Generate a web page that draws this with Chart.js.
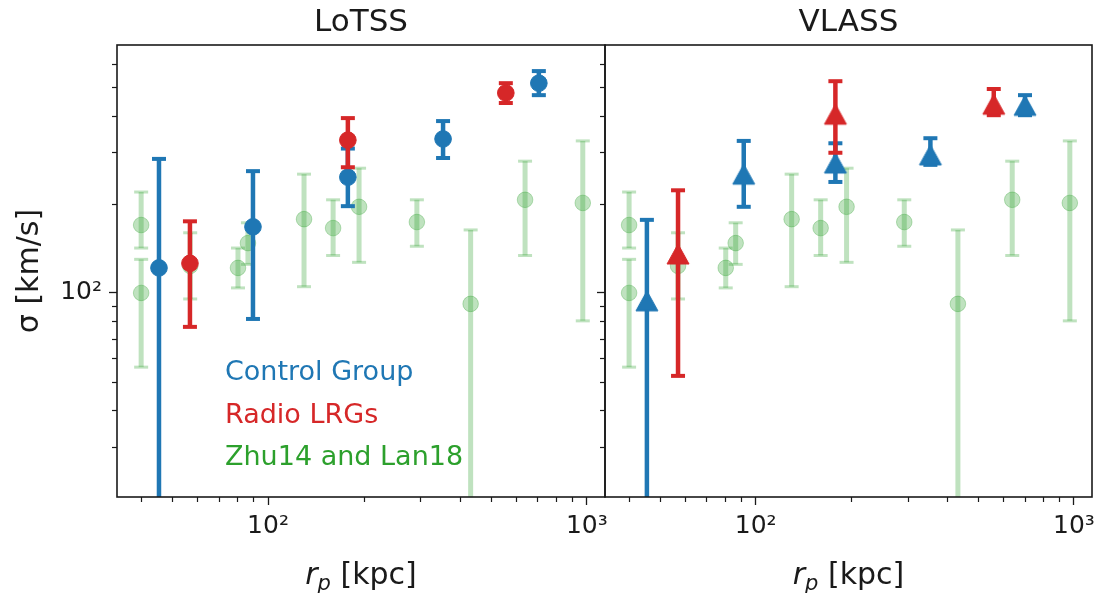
<!DOCTYPE html>
<html>
<head>
<meta charset="utf-8">
<script src="https://cdn.jsdelivr.net/npm/chart.js@4.4.1/dist/chart.umd.min.js"></script>
<style>
  html, body { margin: 0; padding: 0; background: #fff; overflow: hidden; }
  #wrap { position: relative; width: 1102px; height: 593px; overflow: hidden; background: #fff; }
  #cA { position: absolute; left: 0; top: 0; }
  #cB { position: absolute; left: 580px; top: 0; }
</style>
</head>
<body>
<div id="wrap">
  <canvas id="cA" width="620" height="593" style="width:620px;height:593px"></canvas>
  <canvas id="cB" width="560" height="593" style="width:560px;height:593px"></canvas>
</div>
<script>
// ---------------- DATA ----------------
const panelTitles = ['LoTSS', 'VLASS'];
const legendLabels = ['Control Group', 'Radio LRGs', 'Zhu14 and Lan18'];
const yTitle = 'σ [km/s]';
const xTitleMain = 'r', xTitleSub = 'p', xTitleUnit = ' [kpc]';

const xTickValues = [100, 1000];
const xTickLabels = ['10²', '10³'];
const yTickValues = [100];
const yTickLabels = ['10²'];
const xMinorTicks = [40, 50, 60, 70, 80, 90, 200, 300, 400, 500, 600, 700, 800, 900];
const yMinorTicks = [30, 40, 50, 60, 70, 80, 90, 200, 300, 400, 500, 600];

// Zhu14 and Lan18 (same in both panels)
const litR     = [40, 40, 57, 80.5, 86.5, 129.7, 160, 193, 293, 432, 640, 971];
const litSigma = [170, 100, 123.5, 121.6, 147.6, 178, 166, 196, 174, 91.8, 207, 202];
const litLo    = [142, 56, 95.4, 104, 125, 105, 134, 127, 144, 10, 134, 80.4];
const litHi    = [220, 130, 160, 142, 173, 253, 207, 265, 207, 163.6, 280, 328];

// LoTSS
const lotssCtrlR     = [45.5, 89.7, 178, 354, 707];
const lotssCtrlSigma = [121.6, 167.6, 247, 333, 515];
const lotssCtrlLo    = [5, 81.6, 197, 287, 469];
const lotssCtrlHi    = [285, 259, 309, 383, 566];

const lotssRadioR     = [56.9, 178, 557];
const lotssRadioSigma = [126, 330, 477];
const lotssRadioLo    = [76.7, 267, 441];
const lotssRadioHi    = [175, 392, 515];

// VLASS
const vlassCtrlR     = [45.5, 91.7, 178, 354, 702];
const vlassCtrlSigma = [94, 253, 276, 294, 433];
const vlassCtrlLo    = [5, 196, 238, 272, 401];
const vlassCtrlHi    = [177, 328, 322, 335, 469];

const vlassRadioR     = [57, 178, 560];
const vlassRadioSigma = [135.6, 404, 437];
const vlassRadioLo    = [52.3, 299, 401];
const vlassRadioHi    = [223, 523, 492];

// ---------------- STYLE ----------------
const FONT = "'DejaVu Sans', 'Liberation Sans', sans-serif";
const INK = '#1a1a1a';
const BLUE = '#1f77b4', RED = '#d62728', GREEN = '#2ca02c';
const GREEN_A = 'rgba(44,160,44,0.3)';

function pts(xs, ys, lo, hi) {
  return xs.map((x, i) => ({ x: x, y: ys[i], lo: lo[i], hi: hi[i] }));
}

function triangleImage(color) {
  const c = document.createElement('canvas');
  c.width = 26; c.height = 24;
  const g = c.getContext('2d');
  g.fillStyle = color;
  g.strokeStyle = color;
  g.lineWidth = 1;
  g.lineJoin = 'miter';
  g.beginPath();
  g.moveTo(13, 2);
  g.lineTo(2, 22);
  g.lineTo(24, 22);
  g.closePath();
  g.fill();
  g.stroke();
  return c;
}

function makeDatasets(ctrl, radio, triangles) {
  const ctrlStyle = triangles ? triangleImage(BLUE) : 'circle';
  const radioStyle = triangles ? triangleImage(RED) : 'circle';
  return [
    {
      label: legendLabels[0], data: ctrl, order: 1,
      pointStyle: ctrlStyle, pointRadius: 8.3, borderWidth: 1,
      backgroundColor: BLUE, borderColor: BLUE,
      err: { color: BLUE, width: 4.5, cap: 14, capThick: 4 }
    },
    {
      label: legendLabels[1], data: radio, order: 0,
      pointStyle: radioStyle, pointRadius: 8.3, borderWidth: 1,
      backgroundColor: RED, borderColor: RED,
      err: { color: RED, width: 4.5, cap: 14, capThick: 4 }
    },
    {
      label: legendLabels[2], data: pts(litR, litSigma, litLo, litHi), order: 2,
      pointStyle: 'circle', pointRadius: 7.8, borderWidth: 1,
      backgroundColor: GREEN_A, borderColor: GREEN_A,
      err: { color: GREEN_A, width: 5, cap: 14, capThick: 3 }
    }
  ];
}

// ---------------- PLUGINS ----------------
const errorBars = {
  id: 'errorBars',
  beforeDatasetDraw(chart, args) {
    const ds = chart.data.datasets[args.index];
    if (!ds.err) return;
    const { ctx, chartArea: a } = chart;
    const xs = chart.scales.x, ys = chart.scales.y;
    ctx.save();
    ctx.beginPath();
    ctx.rect(a.left, a.top, a.right - a.left, a.bottom - a.top);
    ctx.clip();
    ctx.strokeStyle = ds.err.color;
    ctx.lineCap = 'butt';
    ds.data.forEach(p => {
      const px = xs.getPixelForValue(p.x);
      const pl = ys.getPixelForValue(p.lo);
      const ph = ys.getPixelForValue(p.hi);
      ctx.lineWidth = ds.err.width;
      ctx.beginPath(); ctx.moveTo(px, pl); ctx.lineTo(px, ph); ctx.stroke();
      ctx.lineWidth = ds.err.capThick;
      [pl, ph].forEach(py => {
        ctx.beginPath();
        ctx.moveTo(px - ds.err.cap / 2, py);
        ctx.lineTo(px + ds.err.cap / 2, py);
        ctx.stroke();
      });
    });
    ctx.restore();
  }
};

const frameAndMinor = {
  id: 'frameAndMinor',
  afterDraw(chart) {
    const { ctx, chartArea: a } = chart;
    const xs = chart.scales.x, ys = chart.scales.y;
    ctx.save();
    ctx.strokeStyle = INK;
    ctx.lineWidth = 1.2;
    xMinorTicks.forEach(v => {
      const px = Math.round(xs.getPixelForValue(v)) + 0.5;
      if (px < a.left || px > a.right) return;
      ctx.beginPath(); ctx.moveTo(px, a.bottom); ctx.lineTo(px, a.bottom + 5); ctx.stroke();
    });
    yMinorTicks.forEach(v => {
      const py = Math.round(ys.getPixelForValue(v)) + 0.5;
      if (py < a.top || py > a.bottom) return;
      ctx.beginPath(); ctx.moveTo(a.left, py); ctx.lineTo(a.left - 5, py); ctx.stroke();
    });
    ctx.lineWidth = 1.6;
    ctx.strokeRect(a.left, a.top, a.right - a.left, a.bottom - a.top);
    ctx.restore();
  }
};

const rpTitle = {
  id: 'rpTitle',
  afterDraw(chart) {
    const { ctx, chartArea: a } = chart;
    const fMain = 'italic 30px ' + FONT, fSub = 'italic 21px ' + FONT, fUnit = '30px ' + FONT;
    ctx.save();
    ctx.fillStyle = INK;
    ctx.textBaseline = 'alphabetic';
    ctx.textAlign = 'left';
    ctx.font = fMain; const w1 = ctx.measureText(xTitleMain).width;
    ctx.font = fSub; const w2 = ctx.measureText(xTitleSub).width;
    ctx.font = fUnit; const w3 = ctx.measureText(xTitleUnit).width;
    let x = (a.left + a.right) / 2 - (w1 + w2 + w3) / 2;
    const y = a.bottom + 87;
    ctx.font = fMain; ctx.fillText(xTitleMain, x, y); x += w1;
    ctx.font = fSub; ctx.fillText(xTitleSub, x, y + 6); x += w2;
    ctx.font = fUnit; ctx.fillText(xTitleUnit, x, y);
    ctx.restore();
  }
};

const textLegend = {
  id: 'textLegend',
  afterDraw(chart, args, opts) {
    if (!opts || !opts.show) return;
    const { ctx, chartArea: a } = chart;
    const colors = [BLUE, RED, GREEN];
    ctx.save();
    ctx.font = '27px ' + FONT;
    ctx.textAlign = 'left';
    ctx.textBaseline = 'alphabetic';
    legendLabels.forEach((t, i) => {
      ctx.fillStyle = colors[i];
      ctx.fillText(t, a.left + 108, a.top + 335 + i * 42.5);
    });
    ctx.restore();
  }
};

// ---------------- CHARTS ----------------
function makeOptions(title, isLeft, canvasRightPad) {
  return {
    responsive: false,
    animation: false,
    events: [],
    layout: { padding: { left: 0, top: 0, right: canvasRightPad, bottom: 0 } },
    scales: {
      x: {
        type: 'logarithmic', min: 33.6, max: 1140,
        afterFit: s => { s.height = 96; },
        afterBuildTicks: s => { s.ticks = xTickValues.map(v => ({ value: v, major: true })); },
        ticks: {
          callback: v => { const i = xTickValues.indexOf(v); return i >= 0 ? xTickLabels[i] : ''; },
          font: { family: FONT, size: 25 }, color: INK, padding: 6,
          maxRotation: 0, autoSkip: false
        },
        grid: { display: true, drawOnChartArea: false, drawTicks: true, tickLength: 8, tickWidth: 1.3, tickColor: INK, color: INK },
        border: { display: false }
      },
      y: {
        type: 'logarithmic', min: 20.3, max: 694,
        afterFit: s => { s.width = isLeft ? 117 : 25; },
        afterBuildTicks: s => { s.ticks = yTickValues.map(v => ({ value: v, major: true })); },
        ticks: {
          callback: v => { if (!isLeft) return ''; const i = yTickValues.indexOf(v); return i >= 0 ? yTickLabels[i] : ''; },
          font: { family: FONT, size: 25 }, color: INK, padding: 7, autoSkip: false
        },
        grid: { display: true, drawOnChartArea: false, drawTicks: true, tickLength: 8, tickWidth: 1.3, tickColor: INK, color: INK },
        border: { display: false },
        title: {
          display: isLeft, text: yTitle, color: INK,
          font: { family: FONT, size: 30 }, padding: { top: 12, bottom: 0 }
        }
      }
    },
    plugins: {
      legend: { display: false },
      tooltip: { enabled: false },
      title: {
        display: true, text: title, fullSize: false, color: INK,
        font: { family: FONT, size: 31, weight: 'normal' },
        padding: { top: 4, bottom: 3.8 }
      },
      textLegend: { show: isLeft }
    }
  };
}

const plugins = [errorBars, frameAndMinor, rpTitle, textLegend];

new Chart(document.getElementById('cA'), {
  type: 'scatter',
  data: {
    datasets: makeDatasets(
      pts(lotssCtrlR, lotssCtrlSigma, lotssCtrlLo, lotssCtrlHi),
      pts(lotssRadioR, lotssRadioSigma, lotssRadioLo, lotssRadioHi),
      false)
  },
  options: makeOptions(panelTitles[0], true, 15),
  plugins: plugins
});

new Chart(document.getElementById('cB'), {
  type: 'scatter',
  data: {
    datasets: makeDatasets(
      pts(vlassCtrlR, vlassCtrlSigma, vlassCtrlLo, vlassCtrlHi),
      pts(vlassRadioR, vlassRadioSigma, vlassRadioLo, vlassRadioHi),
      true)
  },
  options: makeOptions(panelTitles[1], false, 48),
  plugins: plugins
});
</script>
</body>
</html>
